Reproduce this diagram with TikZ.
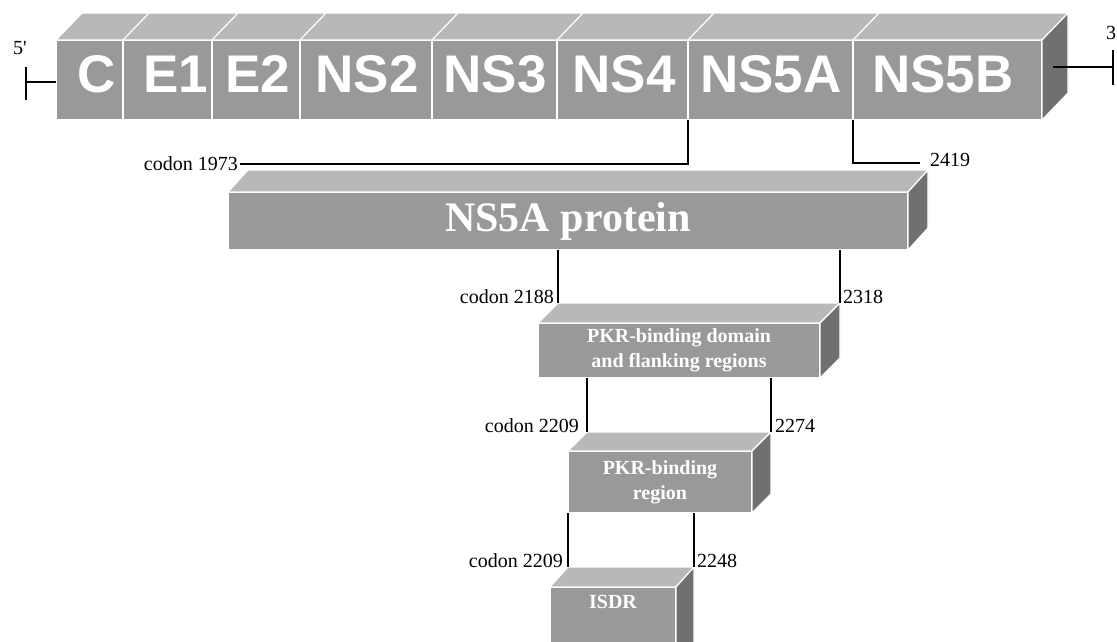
\documentclass[tikz,border=0pt]{standalone}
\usepackage{fontspec}
\setmainfont{Liberation Serif}
\newfontfamily\arialf{Liberation Sans}
\newfontfamily\plainserif{Liberation Serif}[Ligatures=NoCommon,Mapping=]
\usetikzlibrary{calc}
\definecolor{frontc}{gray}{0.60}
\definecolor{topc}{gray}{0.72}
\definecolor{sidec}{gray}{0.44}
\newcommand{\cubefaces}[3]{%
  \path[face, fill=topc] (#1.north west) -- ++(#2,-#3) -- ($(#1.north east)+(#2,-#3)$) -- (#1.north east) -- cycle;
  \path[face, fill=sidec] (#1.north east) -- ++(#2,-#3) -- ($(#1.south east)+(#2,-#3)$) -- (#1.south east) -- cycle;
  \coordinate (#1-bl) at ($(#1.north west)+(#2,-#3)$);
  \coordinate (#1-br) at ($(#1.north east)+(#2,-#3)$);
}
\begin{document}
\begin{tikzpicture}[x=1pt,y=-1pt,
  face/.style={draw=white, line width=1.2pt},
  frontface/.style={face, fill=frontc, inner sep=0pt, outer sep=0pt, rectangle},
  seg/.style={frontface, minimum height=80pt},
  seglab/.style={text=white, inner sep=0pt, font=\arialf\bfseries\fontsize{53}{53}\selectfont},
  boxlab/.style={frontface, text=white, font=\bfseries\fontsize{20}{25}\selectfont, align=center},
  conn/.style={draw=black, line width=1.1pt},
  lab/.style={font=\fontsize{20}{24}\selectfont, inner sep=0pt, text=black},
]
\useasboundingbox (0,0) rectangle (1117,641);
\clip (0,0) rectangle (1117,641);

% genome bar segments
\node[seg, minimum width=67pt]  (sC)   at (89.5,80) {};
\node[seg, minimum width=89pt]  (sE1)  at (167.5,80) {};
\node[seg, minimum width=88pt]  (sE2)  at (256,80) {};
\node[seg, minimum width=132pt] (sNS2) at (366,80) {};
\node[seg, minimum width=125pt] (sNS3) at (494.5,80) {};
\node[seg, minimum width=131pt] (sNS4) at (622.5,80) {};
\node[seg, minimum width=165pt] (sNSA) at (770.5,80) {};
\node[seg, minimum width=189pt] (sNSB) at (947.5,80) {};
\path[face, fill=topc] (sC.north west) -- ++(26,-27) -- ($(sNSB.north east)+(26,-27)$) -- (sNSB.north east) -- cycle;
\path[face, fill=sidec] (sNSB.north east) -- ++(26,-27) -- ($(sNSB.south east)+(26,-27)$) -- (sNSB.south east) -- cycle;
\foreach \n in {sE1,sE2,sNS2,sNS3,sNS4,sNSA,sNSB}
  \draw[white, line width=1.2pt] (\n.north west) -- ++(26,-27);

\node[seglab, anchor=base] (tC)   at (97,92)  {C};
\node[seglab, anchor=base] (tE1)  at (176,92) {E1};
\node[seglab, anchor=base] (tE2)  at (258,92) {E2};
\node[seglab, anchor=base] (tNS2) at (367,92) {NS2};
\node[seglab, anchor=base] (tNS3) at (495,92) {NS3};
\node[seglab, anchor=base] (tNS4) at (624,92) {NS4};
\node[seglab, anchor=base] (tNSA) at (771,92) {NS5A};
\node[seglab, anchor=base] (tNSB) at (943,92) {NS5B};

% 5' and 3' ends
\node[lab, font=\plainserif\fontsize{20}{24}\selectfont] (p5) at (20,48) {5'};
\coordinate (e5) at (26,82);
\draw[conn] (e5) -- (e5 -| sC.west);
\draw[conn] (26,67) -- (26,100);
\node[lab, anchor=west] (p3) at (1106,33) {3};
\coordinate (e3a) at (1053,67);
\coordinate (e3) at (1113,67);
\draw[conn] (e3a) -- (e3);
\draw[conn] (1113,50) -- (1113,85);

% NS5A protein
\node[boxlab, minimum width=680pt, minimum height=58pt, font=\bfseries\fontsize{42}{42}\selectfont] (ns5a) at (568,221) {NS5A protein};
\cubefaces{ns5a}{20}{22}
\coordinate (c1973) at (240,164);
\draw[conn] (sNSA.south west) |- (c1973);
\node[lab, anchor=east] (l1973) at ($(c1973)+(-2,0)$) {codon 1973};
\coordinate (c2419) at (920,163);
\draw[conn] (sNSB.south west) |- (c2419);
\node[lab, anchor=west] (l2419) at (930,160) {2419};

% PKR-binding domain and flanking regions
\node[boxlab, minimum width=282pt, minimum height=55pt] (pkrd) at (679,350.5) {PKR-binding domain\\and flanking regions};
\cubefaces{pkrd}{20}{20}
\draw[conn] (pkrd-bl |- ns5a.south) -- (pkrd-bl);
\draw[conn] (pkrd-br |- ns5a.south) -- (pkrd-br);
\node[lab, anchor=base east] (l2188) at ($(pkrd-bl)+(-4,0)$) {codon 2188};
\node[lab, anchor=base west] (l2318) at ($(pkrd-br)+(3,0)$) {2318};

% PKR-binding region
\node[boxlab, minimum width=184pt, minimum height=62pt] (pkrr) at (660,482) {PKR-binding\\region};
\cubefaces{pkrr}{19}{19}
\draw[conn] (pkrr-bl |- pkrd.south) -- (pkrr-bl);
\draw[conn] (pkrr-br |- pkrd.south) -- (pkrr-br);
\node[lab, anchor=base east] (l2209a) at ($(pkrr-bl)+(-8,0)$) {codon 2209};
\node[lab, anchor=base west] (l2274) at ($(pkrr-br)+(4,0)$) {2274};

% ISDR
\node[boxlab, minimum width=126pt, minimum height=80pt, text height=13pt, text depth=50pt] (isdr) at (613,627) {ISDR};
\cubefaces{isdr}{18}{20}
\draw[conn] (isdr-bl |- pkrr.south) -- (isdr-bl);
\draw[conn] (isdr-br |- pkrr.south) -- (isdr-br);
\node[lab, anchor=base east] (l2209b) at ($(isdr-bl)+(-5,0)$) {codon 2209};
\node[lab, anchor=base west] (l2248) at ($(isdr-br)+(3,0)$) {2248};
\end{tikzpicture}
\end{document}
